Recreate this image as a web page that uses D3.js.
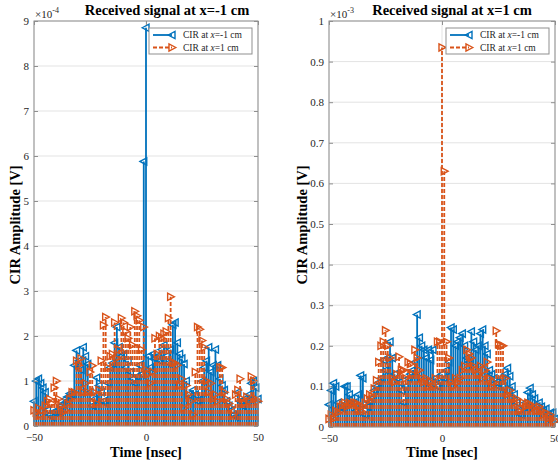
<!DOCTYPE html>
<html>
<head>
<meta charset="utf-8">
<script src="https://cdn.jsdelivr.net/npm/d3@7"></script>
<style>
  body { margin: 0; background: #fff; }
  svg { display: block; }
  text { font-family: "Liberation Serif", "Times New Roman", serif; }
</style>
</head>
<body>
<script>
// Sample delays of the channel impulse response [nsec]
const timesNs = [
  -50,-49,-48,-47,-46,-45,-44,-43,-42,-41,-40,-39,-38,-37,-36,-35,-34,-33,-32,-31,
  -30,-29,-28,-27,-26,-25,-24,-23,-22,-21,-20,-19,-18,-17,-16,-15,-14,-13,-12,-11,
  -10,-9,-8,-7,-6,-5,-4,-3,-2,-1,0,1,2,3,4,5,6,7,8,9,
  10,11,12,13,14,15,16,17,18,19,20,21,22,23,24,25,26,27,28,29,
  30,31,32,33,34,35,36,37,38,39,40,41,42,43,44,45,46,47,48,49,50
];

// Received at x = -1 cm (amplitudes in units of 1e-4 V)
const leftCirMinus = [
  0.55,1.0,1.05,0.95,0.85,0.75,0.35,0.25,0.2,0.3,0.35,0.3,0.45,0.5,0.6,0.65,0.72,0.7,1.35,1.68,
  1.45,1.25,1.75,1.55,1.38,0.75,0.45,0.6,1.07,0.9,0.75,0.55,0.5,0.95,1.3,1.4,1.85,2.2,1.75,1.55,
  1.6,1.3,1.45,1.2,1.05,0.95,1.1,1.35,1.15,5.88,8.85,1.55,1.3,1.6,1.5,1.55,1.45,1.7,1.8,1.55,
  1.4,1.7,2.25,2.3,1.85,1.6,1.5,1.38,1.0,0.7,0.65,0.8,0.7,0.55,0.6,1.0,1.3,1.45,1.75,1.2,
  1.35,1.7,1.35,1.05,0.9,0.8,0.55,0.45,0.35,0.25,0.2,0.75,0.55,0.45,0.6,0.55,0.7,0.95,1.0,0.85,0.6
];
const leftCirPlus = [
  0.35,0.3,0.4,0.25,0.35,0.45,0.55,0.6,0.5,0.85,1.0,0.6,0.45,0.3,0.35,0.5,0.6,0.75,0.75,1.45,
  1.35,1.5,0.75,0.95,0.75,1.2,1.34,0.75,0.5,0.8,1.45,2.24,2.42,1.3,1.55,1.6,2.3,1.5,1.7,2.4,
  2.3,2.1,1.95,2.2,1.8,2.55,2.45,2.35,1.7,2.2,1.25,1.15,0.95,1.2,1.95,1.6,2.0,1.95,2.05,2.1,
  2.4,2.87,1.4,1.4,1.35,0.9,1.05,0.4,0.9,0.7,0.55,0.25,1.2,2.2,2.15,1.9,1.75,1.0,0.75,0.95,
  0.6,0.7,0.55,1.3,1.3,0.75,0.6,0.5,0.4,0.25,0.7,0.8,1.05,0.6,0.5,0.65,0.55,1.1,1.0,0.6,0.55
];

// Received at x = 1 cm (amplitudes in units of 1e-3 V)
const rightCirMinus = [
  0.055,0.09,0.108,0.1,0.06,0.05,0.045,0.1,0.1,0.08,0.07,0.06,0.04,0.08,0.127,0.12,0.03,0.05,0.06,0.07,
  0.09,0.1,0.11,0.12,0.165,0.14,0.17,0.21,0.17,0.13,0.12,0.11,0.09,0.06,0.1,0.12,0.13,0.14,0.16,0.277,
  0.22,0.2,0.19,0.17,0.19,0.165,0.19,0.12,0.1,0.11,0.13,0.12,0.14,0.16,0.245,0.24,0.2,0.21,0.22,0.23,
  0.2,0.17,0.16,0.235,0.21,0.19,0.2,0.23,0.24,0.2,0.18,0.14,0.13,0.12,0.11,0.1,0.12,0.1,0.13,0.145,
  0.125,0.1,0.08,0.06,0.04,0.03,0.05,0.06,0.085,0.096,0.08,0.07,0.05,0.06,0.05,0.04,0.045,0.03,0.035,0.035,0.02
];
const rightCirPlus = [
  0.02,0.03,0.02,0.04,0.035,0.05,0.055,0.06,0.05,0.06,0.055,0.06,0.06,0.05,0.04,0.05,0.06,0.07,0.08,0.075,
  0.095,0.115,0.16,0.2,0.21,0.238,0.2,0.17,0.12,0.11,0.13,0.173,0.14,0.14,0.12,0.16,0.155,0.13,0.19,0.17,
  0.14,0.12,0.11,0.12,0.1,0.11,0.1,0.12,0.21,0.21,0.935,0.63,0.21,0.17,0.11,0.1,0.12,0.11,0.12,0.14,
  0.15,0.19,0.18,0.17,0.15,0.14,0.13,0.15,0.12,0.14,0.16,0.12,0.1,0.11,0.237,0.205,0.2,0.2,0.12,0.08,
  0.09,0.07,0.06,0.07,0.04,0.045,0.06,0.05,0.06,0.055,0.045,0.05,0.04,0.05,0.04,0.03,0.035,0.02,0.03,0.02,0.015
];

const xTicks = [-50, 0, 50];
const leftYTicks = [0,1,2,3,4,5,6,7,8,9];
const rightYTicks = [0,0.1,0.2,0.3,0.4,0.5,0.6,0.7,0.8,0.9,1];
const seriesNames = ["CIR at ", "CIR at "];
const seriesPos = ["=-1 cm", "=1 cm"];

const W = 558, H = 466;
const BLUE = "#0072BD", ORANGE = "#D95319";

const svg = d3.select("body").append("svg").attr("width", W).attr("height", H);

const panels = [
  { left: 34, right: 258, top: 21, bottom: 426, yMax: 9, yTicks: leftYTicks, exp: "-4",
    title: "Received signal at x=-1 cm", titleX: 167,
    blue: leftCirMinus, orange: leftCirPlus, ylabelX: 15 },
  { left: 329, right: 555, top: 21, bottom: 427, yMax: 1, yTicks: rightYTicks, exp: "-3",
    title: "Received signal at x=1 cm", titleX: 452,
    blue: rightCirMinus, orange: rightCirPlus, ylabelX: 302 }
];

const triLeft = "M-3.8,0L3,-3.6L3,3.6Z";
const triRight = "M3.8,0L-3,-3.6L-3,3.6Z";

panels.forEach(p => {
  const x = d3.scaleLinear().domain([-50, 50]).range([p.left, p.right]);
  const y = d3.scaleLinear().domain([0, p.yMax]).range([p.bottom, p.top]);
  const g = svg.append("g");

  // grid
  g.append("g").selectAll("line").data(p.yTicks).join("line")
    .attr("x1", p.left).attr("x2", p.right)
    .attr("y1", d => y(d)).attr("y2", d => y(d))
    .attr("stroke", "#e3e3e3").attr("stroke-width", 1);
  g.append("g").selectAll("line").data(xTicks).join("line")
    .attr("y1", p.top).attr("y2", p.bottom)
    .attr("x1", d => x(d)).attr("x2", d => x(d))
    .attr("stroke", "#e3e3e3").attr("stroke-width", 1);

  // stems: blue first, orange dashed on top
  const drawStems = (vals, color, dashed, marker) => {
    const s = g.append("g");
    s.selectAll("line").data(vals).join("line")
      .attr("x1", (d, i) => x(timesNs[i])).attr("x2", (d, i) => x(timesNs[i]))
      .attr("y1", y(0)).attr("y2", d => y(d))
      .attr("stroke", color).attr("stroke-width", 1.8)
      .attr("stroke-dasharray", dashed ? "4,2" : null);
    s.selectAll("path").data(vals).join("path")
      .attr("d", marker)
      .attr("transform", (d, i) => `translate(${x(timesNs[i])},${y(d)})`)
      .attr("fill", "none").attr("stroke", color).attr("stroke-width", 1.4);
  };
  drawStems(p.blue, BLUE, false, triLeft);
  drawStems(p.orange, ORANGE, true, triRight);

  // axes with inward ticks
  const axCol = "#8f8f8f";
  const styleAxis = sel => {
    sel.select(".domain").remove();
    sel.selectAll(".tick line").attr("stroke", axCol);
    sel.selectAll(".tick text").attr("fill", "#262626").style("font-size", "11px")
      .style("font-family", "'Liberation Serif', serif");
  };
  g.append("g").attr("transform", `translate(${p.left},0)`)
    .call(d3.axisLeft(y).tickValues(p.yTicks).tickFormat(d3.format("~g"))
      .tickSizeInner(-4).tickSizeOuter(0).tickPadding(5))
    .call(styleAxis);
  g.append("g").attr("transform", `translate(${p.right},0)`)
    .call(d3.axisRight(y).tickValues(p.yTicks).tickFormat("").tickSizeInner(-4).tickSizeOuter(0))
    .call(styleAxis);
  g.append("g").attr("transform", `translate(0,${p.bottom})`)
    .call(d3.axisBottom(x).tickValues(xTicks).tickFormat(d3.format("d"))
      .tickSizeInner(-4).tickSizeOuter(0).tickPadding(7))
    .call(styleAxis);
  g.append("g").attr("transform", `translate(0,${p.top})`)
    .call(d3.axisTop(x).tickValues(xTicks).tickFormat("").tickSizeInner(-4).tickSizeOuter(0))
    .call(styleAxis);
  g.append("rect").attr("x", p.left).attr("y", p.top)
    .attr("width", p.right - p.left).attr("height", p.bottom - p.top)
    .attr("fill", "none").attr("stroke", axCol).attr("stroke-width", 1);

  // exponent
  const ex = g.append("text").attr("x", p.left + 1).attr("y", 18)
    .attr("fill", "#262626").style("font-size", "11px").text("\u00d710");
  ex.append("tspan").attr("dy", -5).style("font-size", "8px").text(p.exp);

  // title and labels
  g.append("text").attr("x", p.titleX).attr("y", 15).attr("text-anchor", "middle")
    .style("font-size", "14.5px").style("font-weight", "bold").text(p.title);
  g.append("text").attr("x", (p.left + p.right) / 2).attr("y", 457).attr("text-anchor", "middle")
    .style("font-size", "14.5px").style("font-weight", "bold").text("Time [nsec]");
  g.append("text").attr("transform", `translate(${p.ylabelX},225) rotate(-90)`)
    .attr("text-anchor", "middle").attr("dy", "0.35em")
    .style("font-size", "14.5px").style("font-weight", "bold").text("CIR Amplitude [V]");

  // legend
  const lx = p.right - 109, ly = 28;
  const lg = g.append("g");
  lg.append("rect").attr("x", lx).attr("y", ly).attr("width", 103).attr("height", 26)
    .attr("fill", "#fff").attr("stroke", axCol).attr("stroke-width", 1);
  [[BLUE, false, triLeft], [ORANGE, true, triRight]].forEach((e, i) => {
    const ry = ly + 7 + i * 12.5;
    lg.append("line").attr("x1", lx + 4).attr("x2", lx + 23).attr("y1", ry).attr("y2", ry)
      .attr("stroke", e[0]).attr("stroke-width", 1.8).attr("stroke-dasharray", e[1] ? "4,2" : null);
    lg.append("path").attr("d", e[2]).attr("transform", `translate(${lx + 23},${ry})`)
      .attr("fill", "none").attr("stroke", e[0]).attr("stroke-width", 1.4);
    const t = lg.append("text").attr("x", lx + 34).attr("y", ry).attr("dy", "0.35em")
      .attr("fill", "#262626").style("font-size", "9.5px");
    t.append("tspan").text(seriesNames[i]);
    t.append("tspan").style("font-style", "italic").text("x");
    t.append("tspan").text(seriesPos[i]);
  });
});
</script>
</body>
</html>
